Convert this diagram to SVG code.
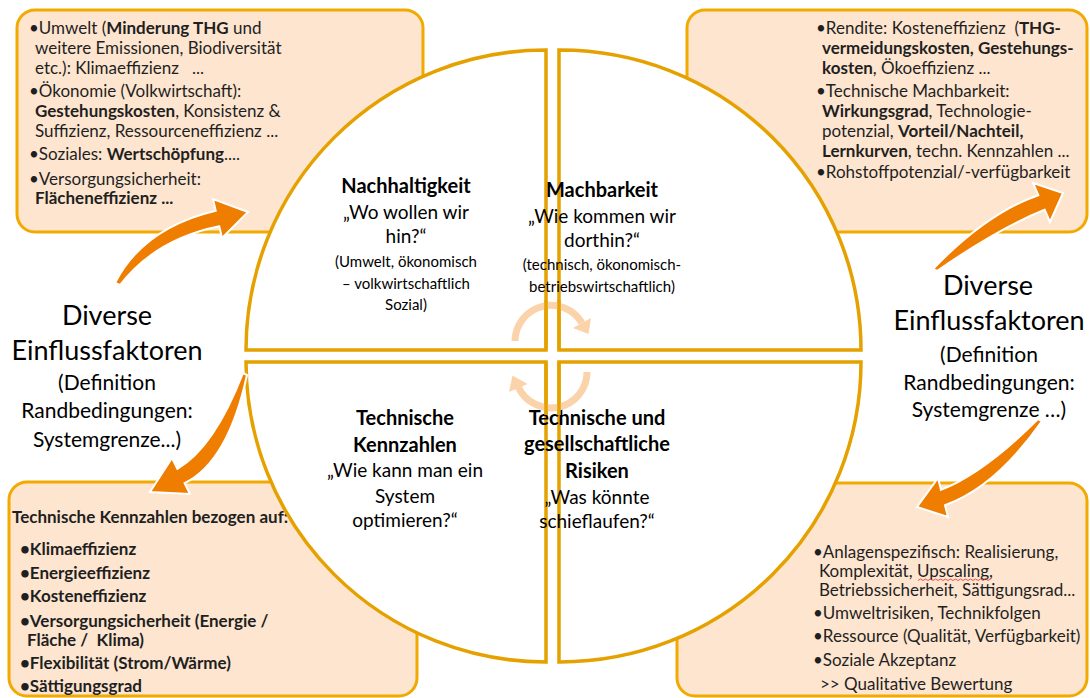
<svg xmlns="http://www.w3.org/2000/svg" width="1090" height="698" viewBox="0 0 1090 698">
<style>
.box{fill:#FDE5CF;stroke:#F2A900;stroke-width:3}
.q{fill:#fff;stroke:#E5A100;stroke-width:3.5}
.arr{fill:#EF7D00;stroke:#fff;stroke-width:2;stroke-linejoin:miter}
.cyc{fill:none;stroke:#FAD3AA;stroke-width:7}
.cyh{fill:#FAD3AA}
text{font-family:Lato,"Liberation Sans",sans-serif;fill:#1f1f1f}
.s{font-size:17px}
.b{font-weight:bold}
.h{font-size:20px;font-weight:bold;text-anchor:middle;fill:#000}
.qq{font-size:19px;text-anchor:middle;fill:#000}
.sm{font-size:15px;text-anchor:middle;fill:#000}
.big{font-size:27px;text-anchor:middle;fill:#000}
.mid{font-size:21px;text-anchor:middle;fill:#000}
</style>
<rect width="1090" height="698" fill="#fff"/>

<g id="box-tl">
<rect class="box" x="17" y="10" width="406" height="222" rx="18"/>
<text class="s" x="29" y="34">•Umwelt (<tspan class="b">Minderung THG</tspan> und</text>
<text class="s" x="35" y="54">weitere Emissionen, Biodiversität</text>
<text class="s" x="35" y="74">etc.): Klimaeffizienz&#160;&#160; ...</text>
<text class="s" x="29" y="97">•Ökonomie (Volkwirtschaft):</text>
<text class="s" x="35" y="117"><tspan class="b">Gestehungskosten</tspan>, Konsistenz &amp;</text>
<text class="s" x="35" y="137">Suffizienz, Ressourceneffizienz ...</text>
<text class="s" x="29" y="160">•Soziales: <tspan class="b">Wertschöpfung</tspan>....</text>
<text class="s" x="29" y="185">•Versorgungsicherheit:</text>
<text class="s b" x="35" y="204">Flächeneffizienz ...</text>
</g>

<g id="box-tr">
<rect class="box" x="687" y="10" width="400" height="222" rx="18"/>
<text class="s" x="816" y="34">•Rendite: Kosteneffizienz&#160; (<tspan class="b">THG-</tspan></text>
<text class="s b" x="822" y="54">vermeidungskosten, Gestehungs-</text>
<text class="s" x="822" y="74"><tspan class="b">kosten</tspan>, Ökoeffizienz ...</text>
<text class="s" x="816" y="97">•Technische Machbarkeit:</text>
<text class="s" x="822" y="117"><tspan class="b">Wirkungsgrad</tspan>, Technologie-</text>
<text class="s" x="822" y="137">potenzial, <tspan class="b">Vorteil/Nachteil,</tspan></text>
<text class="s" x="822" y="157"><tspan class="b">Lernkurven</tspan>, techn. Kennzahlen ...</text>
<text class="s" x="816" y="178">•Rohstoffpotenzial/-verfügbarkeit</text>
</g>

<g id="box-bl">
<rect class="box" x="9" y="482" width="408" height="214" rx="18"/>
<text class="s b" x="12" y="523" fill="#333">Technische Kennzahlen bezogen auf:</text>
<text class="s b" x="20" y="555">•Klimaeffizienz</text>
<text class="s b" x="20" y="579">•Energieeffizienz</text>
<text class="s b" x="20" y="602">•Kosteneffizienz</text>
<text class="s b" x="20" y="627">•Versorgungsicherheit (Energie /</text>
<text class="s b" x="27" y="646">Fläche /&#160; Klima)</text>
<text class="s b" x="20" y="669">•Flexibilität (Strom/Wärme)</text>
<text class="s b" x="20" y="692">•Sättigungsgrad</text>
</g>

<g id="box-br">
<rect class="box" x="677" y="483" width="410" height="213" rx="18"/>
<text class="s" x="813" y="558">•Anlagenspezifisch: Realisierung,</text>
<text class="s" x="819" y="577">Komplexität, Upscaling,</text>
<path d="M918,580.5 l2.5,-1.5 l2.5,1.5 l2.5,-1.5 l2.5,1.5 l2.5,-1.5 l2.5,1.5 l2.5,-1.5 l2.5,1.5 l2.5,-1.5 l2.5,1.5 l2.5,-1.5 l2.5,1.5 l2.5,-1.5 l2.5,1.5 l2.5,-1.5 l2.5,1.5 l2.5,-1.5 l2.5,1.5 l2.5,-1.5 l2.5,1.5 l2.5,-1.5 l2.5,1.5 l2.5,-1.5 l2.5,1.5 l2.5,-1.5 l2.5,1.5 l2.5,-1.5 l2.5,1.5 l2.5,-1.5" fill="none" stroke="#e03030" stroke-width="0.8"/>
<text class="s" x="819" y="596">Betriebssicherheit, Sättigungsrad...</text>
<text class="s" x="813" y="619">•Umweltrisiken, Technikfolgen</text>
<text class="s" x="813" y="642">•Ressource (Qualität, Verfügbarkeit)</text>
<text class="s" x="813" y="666">•Soziale Akzeptanz</text>
<text class="s" x="820" y="690">&gt;&gt; Qualitative Bewertung</text>
</g>

<g id="q-tl">
<path class="q" d="M546,350 L246,350 A300,300 0 0 1 546,50 Z"/>
<text class="h" x="406" y="193">Nachhaltigkeit</text>
<text class="qq" x="406" y="219">„Wo wollen wir</text>
<text class="qq" x="406" y="243">hin?“</text>
<text class="sm" x="406" y="267">(Umwelt, ökonomisch</text>
<text class="sm" x="406" y="289">– volkwirtschaftlich</text>
<text class="sm" x="406" y="310">Sozial)</text>
</g>

<g id="q-tr">
<path class="q" d="M559,350 L559,50 A301,300 0 0 1 861,350 Z"/>
<text class="h" x="602" y="197">Machbarkeit</text>
<text class="qq" x="602" y="223">„Wie kommen wir</text>
<text class="qq" x="602" y="247">dorthin?“</text>
<text class="sm" x="602" y="270">(technisch, ökonomisch-</text>
<text class="sm" x="602" y="292">betriebswirtschaftlich)</text>
</g>

<g id="q-bl">
<path class="q" d="M546,362 L546,662 A300,300 0 0 1 246,362 Z"/>
<text class="h" x="405" y="425">Technische</text>
<text class="h" x="405" y="452">Kennzahlen</text>
<text class="qq" x="405" y="477">„Wie kann man ein</text>
<text class="qq" x="405" y="503">System</text>
<text class="qq" x="405" y="527">optimieren?“</text>
</g>

<g id="q-br">
<path class="q" d="M559,362 L861,362 A301,300 0 0 1 559,662 Z"/>
<text class="h" x="597" y="425">Technische und</text>
<text class="h" x="597" y="451">gesellschaftliche</text>
<text class="h" x="597" y="478">Risiken</text>
<text class="qq" x="597" y="504">„Was könnte</text>
<text class="qq" x="597" y="528">schieflaufen?“</text>
</g>

<g id="cycle">
<path class="cyc" d="M515,341 A36,36 0 0 1 582,323"/>
<polygon class="cyh" points="588.5,334 591,318 573,328"/>
<path class="cyc" d="M587,372 A36,36 0 0 1 518.4,387.2"/>
<polygon class="cyh" points="512.5,375.5 509,392 527.5,384"/>
<path d="M546,300 V350 M559,300 V350 M546,362 V415 M559,362 V415" stroke="#E5A100" stroke-width="3.5" fill="none"/>
</g>

<g id="label-left">
<text class="big" x="107" y="325">Diverse</text>
<text class="big" x="107" y="360">Einflussfaktoren</text>
<text class="mid" x="107" y="390">(Definition</text>
<text class="mid" x="107" y="418">Randbedingungen:</text>
<text class="mid" x="107" y="447">Systemgrenze...)</text>
</g>

<g id="label-right">
<text class="big" x="988" y="295">Diverse</text>
<text class="big" x="989" y="330">Einflussfaktoren</text>
<text class="mid" x="989" y="362">(Definition</text>
<text class="mid" x="989" y="390">Randbedingungen:</text>
<text class="mid" x="989" y="417">Systemgrenze …)</text>
</g>

<g id="connectors">
<path class="arr" d="M115,283 Q143,228 215.7,210.7 L213,199 L248,212 L222,238 L219.3,226.3 Q156,239 120,285 Z"/>
<path class="arr" d="M247,375 Q228,462 184.6,483.2 L190,494 L150,492 L172,458 L177.4,468.8 Q214,448 243,373 Z"/>
<path class="arr" d="M933,269 Q987,213 1038.3,195.2 L1033,183 L1063,193 L1050,222 L1044.7,209.8 Q999,228 937,271 Z"/>
<path class="arr" d="M1042,421 Q996,487 945,505.2 L948,517 L917,507 L938,478 L941,489.8 Q984,473 1038,419 Z"/>
</g>
</svg>
